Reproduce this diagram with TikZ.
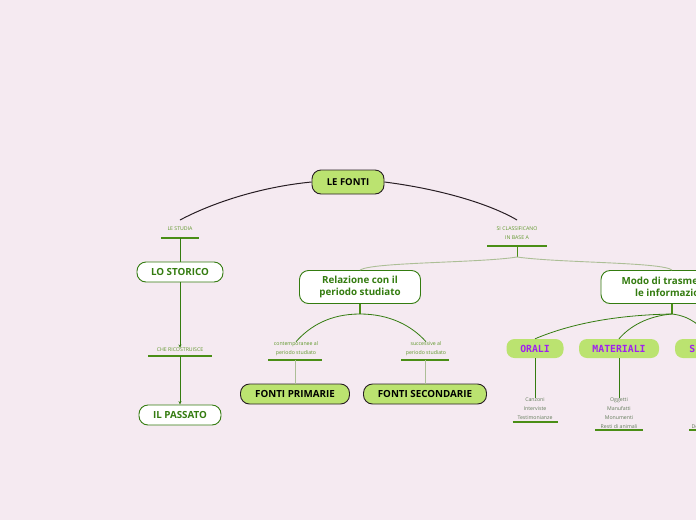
\documentclass[tikz,border=0pt]{standalone}
\usepackage{fontspec}
\setmainfont{Open Sans}
\newfontfamily\monob{DejaVu Sans Mono}
\usetikzlibrary{arrows.meta}
\definecolor{bgc}{RGB}{245,234,241}
\definecolor{nfill}{RGB}{187,227,112}
\definecolor{dgreen}{RGB}{52,124,16}
\definecolor{lgreen}{RGB}{96,152,44}
\definecolor{ugreen}{RGB}{74,142,22}
\definecolor{purp}{RGB}{160,32,240}
\definecolor{grayc}{RGB}{172,190,150}
\definecolor{itemc}{RGB}{100,124,92}
\definecolor{darkc}{RGB}{40,30,36}
\tikzset{
  x=1pt, y=-1pt,
  rootbox/.style={draw=darkc, line width=0.9pt, fill=nfill, rounded corners=9pt, inner sep=0pt,
    font=\bfseries\fontsize{9.5}{11}\selectfont, text=black},
  whitebox/.style={draw=dgreen, line width=0.9pt, fill=white, rounded corners=9pt, inner sep=0pt,
    font=\bfseries\fontsize{9.8}{12.5}\selectfont, text=dgreen, align=center},
  greenbox/.style={draw=darkc, line width=0.9pt, fill=nfill, rounded corners=9pt, inner sep=0pt,
    font=\bfseries\fontsize{9.8}{11}\selectfont, text=black},
  purpbox/.style={draw=none, fill=nfill, rounded corners=8pt, inner sep=0pt,
    font=\monob\bfseries\fontsize{9.8}{11}\selectfont, text=purp},
  lbl/.style={inner sep=0pt, align=center, font=\fontsize{5.2}{9}\selectfont, text=lgreen},
  items/.style={inner sep=0pt, align=center, font=\fontsize{5.2}{9}\selectfont, text=itemc},
  uline/.style={draw=ugreen, line width=1.3pt},
  blackcurve/.style={draw=darkc, line width=1pt},
  gcurve/.style={draw=dgreen, line width=0.8pt},
  graycurve/.style={draw=grayc, line width=0.9pt},
  arr/.style={draw=dgreen, line width=0.8pt, -{Stealth[length=3.5pt,width=3pt]}},
}
\begin{document}
\begin{tikzpicture}
\useasboundingbox (0,0) rectangle (696,520);
\clip (0,0) rectangle (696,520);
\fill[bgc] (0,0) rectangle (696,520);

% root
\node[rootbox, minimum width=72pt, minimum height=24pt] (root) at (348,182) {LE FONTI};

% left branch
\node[lbl] (lestudia) at (180,229) {LE STUDIA};
\coordinate (lestudiaT) at (180,220);
\coordinate (lestudiaU) at (180,238);
\draw[uline] ([xshift=-19pt]lestudiaU) -- ([xshift=19pt]lestudiaU);
\node[whitebox, minimum width=86pt, minimum height=20pt] (storico) at (180,272) {LO STORICO};
\node[lbl] (ricostr) at (180,350) {CHE RICOSTRUISCE};
\coordinate (ricostrU) at (180,356);
\draw[uline] ([xshift=-32pt]ricostrU) -- ([xshift=32pt]ricostrU);
\node[whitebox, minimum width=82pt, minimum height=20pt] (passato) at (180,415) {IL PASSATO};

\draw[blackcurve] (root.west) .. controls (260,187) and (212,203) .. (lestudiaT);
\draw[gcurve] (lestudiaU) -- (storico.north);
\draw[arr] (storico.south) -- (ricostr.north);
\draw[arr] (ricostrU) -- (passato.north);

% right branch
\node[lbl] (classif) at (517,233) {SI CLASSIFICANO\\IN BASE A};
\coordinate (classifT) at (517,220);
\coordinate (classifU) at (517,246);
\coordinate (classifB) at (517,257);
\draw[uline] ([xshift=-30pt]classifU) -- ([xshift=30pt]classifU);
\draw[blackcurve] (root.east) .. controls (440,189) and (490,204) .. (classifT);

\node[whitebox, minimum width=121pt, minimum height=33pt] (relaz) at (360,287) {Relazione con il\\periodo studiato};
\node[whitebox, minimum width=142pt, minimum height=33pt] (modo) at (672,287) {Modo di trasmettere\\le informazioni};

\draw[ugreen, line width=1pt] (classifU) -- (classifB);
\draw[graycurve] (classifB) .. controls (480,263) and (372,262) .. (relaz.north);
\draw[graycurve] (classifB) .. controls (560,263) and (662,262) .. (modo.north);

% relazione children
\coordinate (relazB) at (360,314);
\draw[ugreen, line width=1.2pt] (relaz.south) -- (relazB);
\node[lbl] (contemp) at (296,349) {contemporanee al\\periodo studiato};
\coordinate (contempU) at (295,360);
\draw[uline] ([xshift=-27pt]contempU) -- ([xshift=27pt]contempU);
\node[lbl] (success) at (426,349) {successive al\\periodo studiato};
\coordinate (successU) at (425,360);
\draw[uline] ([xshift=-24pt]successU) -- ([xshift=24pt]successU);
\draw[gcurve] (relazB) .. controls (330,314) and (310,326) .. (contemp.north);
\draw[gcurve] (relazB) .. controls (390,314) and (412,326) .. (success.north);

\node[greenbox, minimum width=109pt, minimum height=20pt] (prim) at (295,394) {FONTI PRIMARIE};
\node[greenbox, minimum width=123pt, minimum height=20pt] (second) at (425,394) {FONTI SECONDARIE};
\draw[graycurve] (contempU) -- (prim.north);
\draw[graycurve] (successU) -- (second.north);

% modo children
\coordinate (modoB) at (672,314);
\draw[ugreen, line width=1.2pt] (modo.south) -- (modoB);
\node[purpbox, minimum width=57pt, minimum height=19pt] (orali) at (535,348.5) {ORALI};
\node[purpbox, minimum width=80pt, minimum height=19pt] (mater) at (619,348.5) {MATERIALI};
\node[purpbox, minimum width=70pt, minimum height=19pt] (scritte) at (710,348.5) {SCRITTE};
\draw[gcurve] (modoB) .. controls (615,315) and (570,324) .. (orali.north);
\draw[gcurve] (modoB) .. controls (648,316) and (630,326) .. (mater.north);
\draw[gcurve] (modoB) .. controls (690,316) and (702,326) .. (scritte.north);

\node[items] (oraliT) at (535,409) {Canzoni\\Interviste\\Testimonianze};
\coordinate (oraliU) at (535,422);
\draw[uline] ([xshift=-22.5pt]oraliU) -- ([xshift=22.5pt]oraliU);
\node[items] (materT) at (619,413.5) {Oggetti\\Manufatti\\Monumenti\\Resti di animali};
\coordinate (materU) at (619,430);
\draw[uline] ([xshift=-24pt]materU) -- ([xshift=24pt]materU);
\node[items] (scritteT) at (710,413.5) {Libri\\Lettere\\Fotografie\\Documenti vari};
\coordinate (scritteU) at (710,430);
\draw[uline] ([xshift=-21pt]scritteU) -- ([xshift=21pt]scritteU);
\draw[gcurve] (orali.south) -- (oraliT.north);
\draw[gcurve] (mater.south) -- (materT.north);
\draw[gcurve] (scritte.south) -- (scritteT.north);
\end{tikzpicture}
\end{document}
